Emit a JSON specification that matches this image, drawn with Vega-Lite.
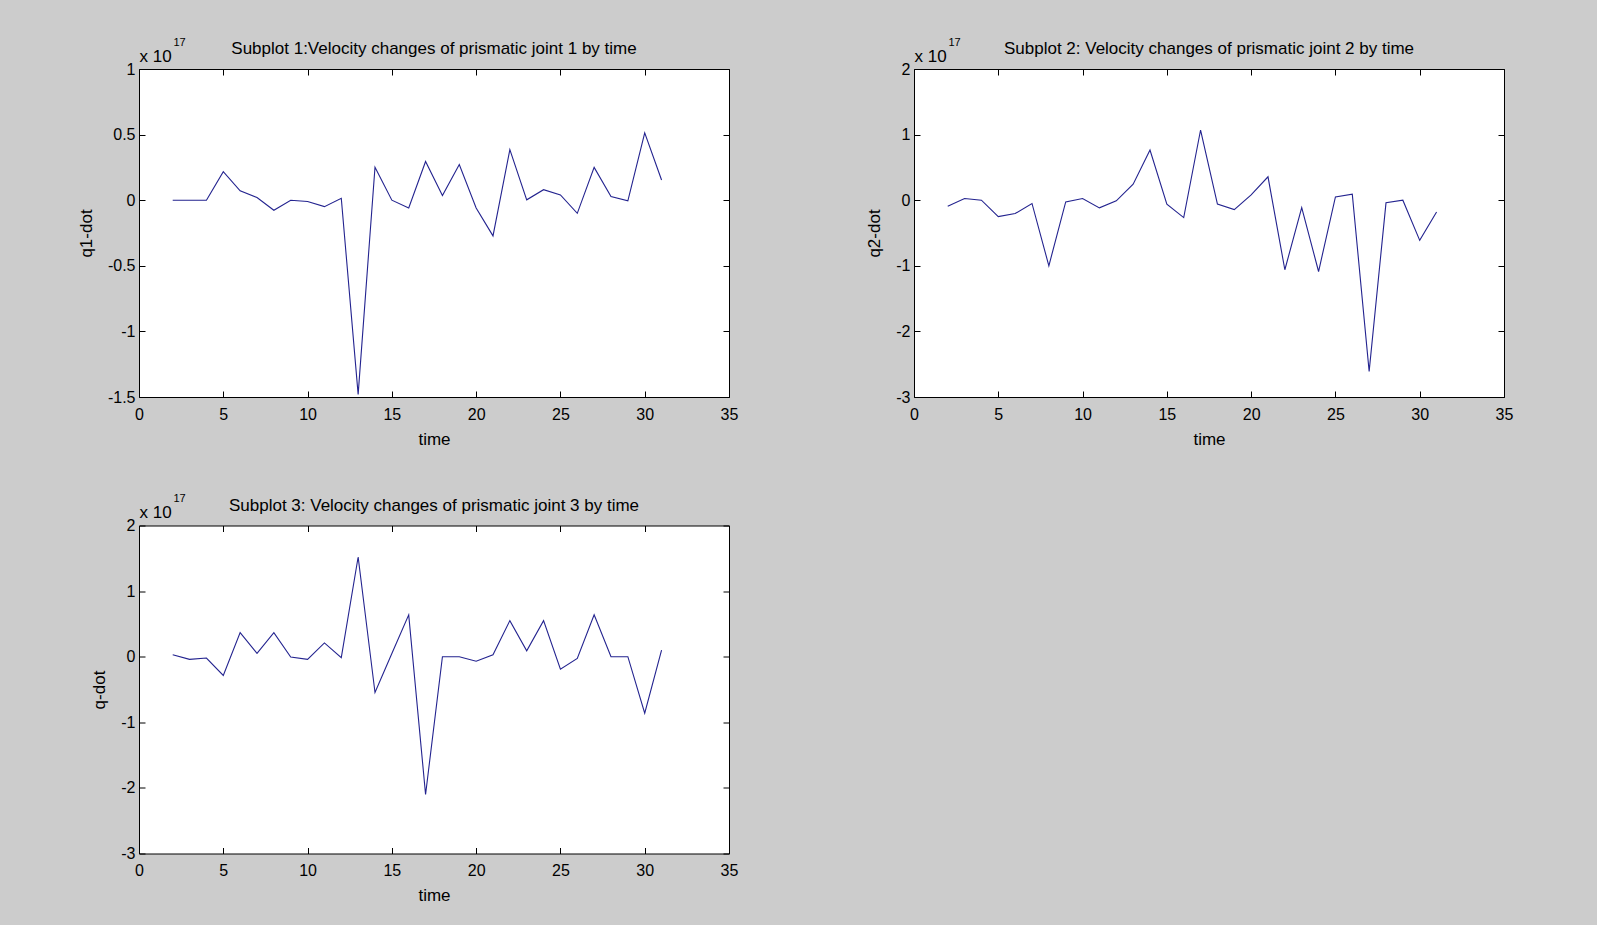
{
  "$schema": "https://vega.github.io/schema/vega-lite/v6.json",
  "background": "#cccccc",
  "autosize": {"type": "none"},
  "padding": {"left": 139, "top": 69, "right": 1458, "bottom": 856},
  "columns": 2,
  "spacing": {"row": 128.5, "column": 185},
  "bounds": "flush",
  "datasets": {
    "q1": [
      {"time": 2, "v": 0}, {"time": 3, "v": 0}, {"time": 4, "v": 0}, {"time": 5, "v": 0.218},
      {"time": 6, "v": 0.072}, {"time": 7, "v": 0.02}, {"time": 8, "v": -0.077}, {"time": 9, "v": 0},
      {"time": 10, "v": -0.01}, {"time": 11, "v": -0.049}, {"time": 12, "v": 0.015}, {"time": 13, "v": -1.48},
      {"time": 14, "v": 0.251}, {"time": 15, "v": 0}, {"time": 16, "v": -0.059}, {"time": 17, "v": 0.295},
      {"time": 18, "v": 0.036}, {"time": 19, "v": 0.272}, {"time": 20, "v": -0.06}, {"time": 21, "v": -0.272},
      {"time": 22, "v": 0.385}, {"time": 23, "v": 0.003}, {"time": 24, "v": 0.08}, {"time": 25, "v": 0.04},
      {"time": 26, "v": -0.1}, {"time": 27, "v": 0.25}, {"time": 28, "v": 0.028}, {"time": 29, "v": -0.005},
      {"time": 30, "v": 0.513}, {"time": 31, "v": 0.154}
    ],
    "q2": [
      {"time": 2, "v": -0.092}, {"time": 3, "v": 0.026}, {"time": 4, "v": 0}, {"time": 5, "v": -0.25},
      {"time": 6, "v": -0.204}, {"time": 7, "v": -0.05}, {"time": 8, "v": -1.0}, {"time": 9, "v": -0.026},
      {"time": 10, "v": 0.026}, {"time": 11, "v": -0.117}, {"time": 12, "v": -0.01}, {"time": 13, "v": 0.245},
      {"time": 14, "v": 0.765}, {"time": 15, "v": -0.06}, {"time": 16, "v": -0.265}, {"time": 17, "v": 1.07},
      {"time": 18, "v": -0.06}, {"time": 19, "v": -0.143}, {"time": 20, "v": 0.08}, {"time": 21, "v": 0.357},
      {"time": 22, "v": -1.06}, {"time": 23, "v": -0.112}, {"time": 24, "v": -1.087}, {"time": 25, "v": 0.05},
      {"time": 26, "v": 0.092}, {"time": 27, "v": -2.61}, {"time": 28, "v": -0.04}, {"time": 29, "v": 0},
      {"time": 30, "v": -0.612}, {"time": 31, "v": -0.18}
    ],
    "q3": [
      {"time": 2, "v": 0.03}, {"time": 3, "v": -0.04}, {"time": 4, "v": -0.02}, {"time": 5, "v": -0.286},
      {"time": 6, "v": 0.367}, {"time": 7, "v": 0.05}, {"time": 8, "v": 0.367}, {"time": 9, "v": -0.005},
      {"time": 10, "v": -0.04}, {"time": 11, "v": 0.21}, {"time": 12, "v": -0.015}, {"time": 13, "v": 1.52},
      {"time": 14, "v": -0.546}, {"time": 15, "v": 0.05}, {"time": 16, "v": 0.638}, {"time": 17, "v": -2.1},
      {"time": 18, "v": 0}, {"time": 19, "v": 0}, {"time": 20, "v": -0.07}, {"time": 21, "v": 0.03},
      {"time": 22, "v": 0.55}, {"time": 23, "v": 0.09}, {"time": 24, "v": 0.55}, {"time": 25, "v": -0.19},
      {"time": 26, "v": -0.025}, {"time": 27, "v": 0.638}, {"time": 28, "v": 0}, {"time": 29, "v": 0},
      {"time": 30, "v": -0.862}, {"time": 31, "v": 0.1}
    ]
  },
  "concat": [
    {
      "width": 590, "height": 328,
      "data": {"name": "q1"},
      "title": {"text": "Subplot 1:Velocity changes of prismatic joint 1 by time", "frame": "group", "anchor": "middle", "baseline": "alphabetic", "offset": 0, "dy": 35},
      "layer": [
        {
          "mark": {"type": "line", "color": "#23238f", "strokeWidth": 1.1},
          "encoding": {
            "x": {"field": "time", "type": "quantitative", "scale": {"domain": [0, 35], "nice": false, "zero": false},
                  "axis": {"orient": "bottom", "values": [0, 5, 10, 15, 20, 25, 30, 35], "title": "time", "titlePadding": 9, "labelPadding": 15}},
            "y": {"field": "v", "type": "quantitative", "scale": {"domain": [-1.5, 1], "nice": false, "zero": false},
                  "axis": {"orient": "left", "values": [-1.5, -1, -0.5, 0, 0.5, 1], "title": "q1-dot", "titlePadding": 12, "labelPadding": 10,
                           "labelExpr": "replace(format(datum.value, '~g'), '\u2212', '-')"}}
          }
        },
        {
          "mark": {"type": "line", "opacity": 0},
          "encoding": {
            "x": {"field": "time", "type": "quantitative",
                  "axis": {"orient": "top", "values": [0, 5, 10, 15, 20, 25, 30, 35], "labels": false,
                           "title": "x 10", "titleX": 0, "titleY": -8, "titleAlign": "left", "titleBaseline": "alphabetic", "titleFontSize": 17}},
            "y": {"field": "v", "type": "quantitative",
                  "axis": {"orient": "right", "values": [-1.5, -1, -0.5, 0, 0.5, 1], "labels": false,
                           "title": "17", "titleAngle": 0, "titleX": -556, "titleY": -24, "titleAlign": "left", "titleBaseline": "alphabetic", "titleFontSize": 11}}
          }
        }
      ],
      "resolve": {"axis": {"x": "independent", "y": "independent"}}
    },
    {
      "width": 590, "height": 328,
      "data": {"name": "q2"},
      "title": {"text": "Subplot 2: Velocity changes of prismatic joint 2 by time", "frame": "group", "anchor": "middle", "baseline": "alphabetic", "offset": 0, "dy": 35},
      "layer": [
        {
          "mark": {"type": "line", "color": "#23238f", "strokeWidth": 1.1},
          "encoding": {
            "x": {"field": "time", "type": "quantitative", "scale": {"domain": [0, 35], "nice": false, "zero": false},
                  "axis": {"orient": "bottom", "values": [0, 5, 10, 15, 20, 25, 30, 35], "title": "time", "titlePadding": 9, "labelPadding": 15}},
            "y": {"field": "v", "type": "quantitative", "scale": {"domain": [-3, 2], "nice": false, "zero": false},
                  "axis": {"orient": "left", "values": [-3, -2, -1, 0, 1, 2], "title": "q2-dot", "titlePadding": 12, "labelPadding": 10,
                           "labelExpr": "replace(format(datum.value, '~g'), '\u2212', '-')"}}
          }
        },
        {
          "mark": {"type": "line", "opacity": 0},
          "encoding": {
            "x": {"field": "time", "type": "quantitative",
                  "axis": {"orient": "top", "values": [0, 5, 10, 15, 20, 25, 30, 35], "labels": false,
                           "title": "x 10", "titleX": 0, "titleY": -8, "titleAlign": "left", "titleBaseline": "alphabetic", "titleFontSize": 17}},
            "y": {"field": "v", "type": "quantitative",
                  "axis": {"orient": "right", "values": [-3, -2, -1, 0, 1, 2], "labels": false,
                           "title": "17", "titleAngle": 0, "titleX": -556, "titleY": -24, "titleAlign": "left", "titleBaseline": "alphabetic", "titleFontSize": 11}}
          }
        }
      ],
      "resolve": {"axis": {"x": "independent", "y": "independent"}}
    },
    {
      "width": 590, "height": 328,
      "data": {"name": "q3"},
      "title": {"text": "Subplot 3: Velocity changes of prismatic joint 3 by time", "frame": "group", "anchor": "middle", "baseline": "alphabetic", "offset": 0, "dy": 35},
      "layer": [
        {
          "mark": {"type": "line", "color": "#23238f", "strokeWidth": 1.1},
          "encoding": {
            "x": {"field": "time", "type": "quantitative", "scale": {"domain": [0, 35], "nice": false, "zero": false},
                  "axis": {"orient": "bottom", "values": [0, 5, 10, 15, 20, 25, 30, 35], "title": "time", "titlePadding": 9, "labelPadding": 15}},
            "y": {"field": "v", "type": "quantitative", "scale": {"domain": [-3, 2], "nice": false, "zero": false},
                  "axis": {"orient": "left", "values": [-3, -2, -1, 0, 1, 2], "title": "q-dot", "titlePadding": 12, "labelPadding": 10,
                           "labelExpr": "replace(format(datum.value, '~g'), '\u2212', '-')"}}
          }
        },
        {
          "mark": {"type": "line", "opacity": 0},
          "encoding": {
            "x": {"field": "time", "type": "quantitative",
                  "axis": {"orient": "top", "values": [0, 5, 10, 15, 20, 25, 30, 35], "labels": false,
                           "title": "x 10", "titleX": 0, "titleY": -8, "titleAlign": "left", "titleBaseline": "alphabetic", "titleFontSize": 17}},
            "y": {"field": "v", "type": "quantitative",
                  "axis": {"orient": "right", "values": [-3, -2, -1, 0, 1, 2], "labels": false,
                           "title": "17", "titleAngle": 0, "titleX": -556, "titleY": -24, "titleAlign": "left", "titleBaseline": "alphabetic", "titleFontSize": 11}}
          }
        }
      ],
      "resolve": {"axis": {"x": "independent", "y": "independent"}}
    }
  ],
  "config": {
    "font": "Liberation Sans",
    "view": {"stroke": "#000000", "strokeWidth": 1, "fill": "#ffffff"},
    "title": {"font": "Liberation Sans", "fontSize": 17, "fontWeight": "normal", "color": "#000000"},
    "axis": {
      "domain": false, "grid": false, "labelFlush": false,
      "tickColor": "#000000", "tickSize": -6, "tickWidth": 1,
      "labelFont": "Liberation Sans", "labelFontSize": 16, "labelColor": "#000000",
      "titleFont": "Liberation Sans", "titleFontSize": 17, "titleFontWeight": "normal", "titleColor": "#000000"
    }
  }
}
